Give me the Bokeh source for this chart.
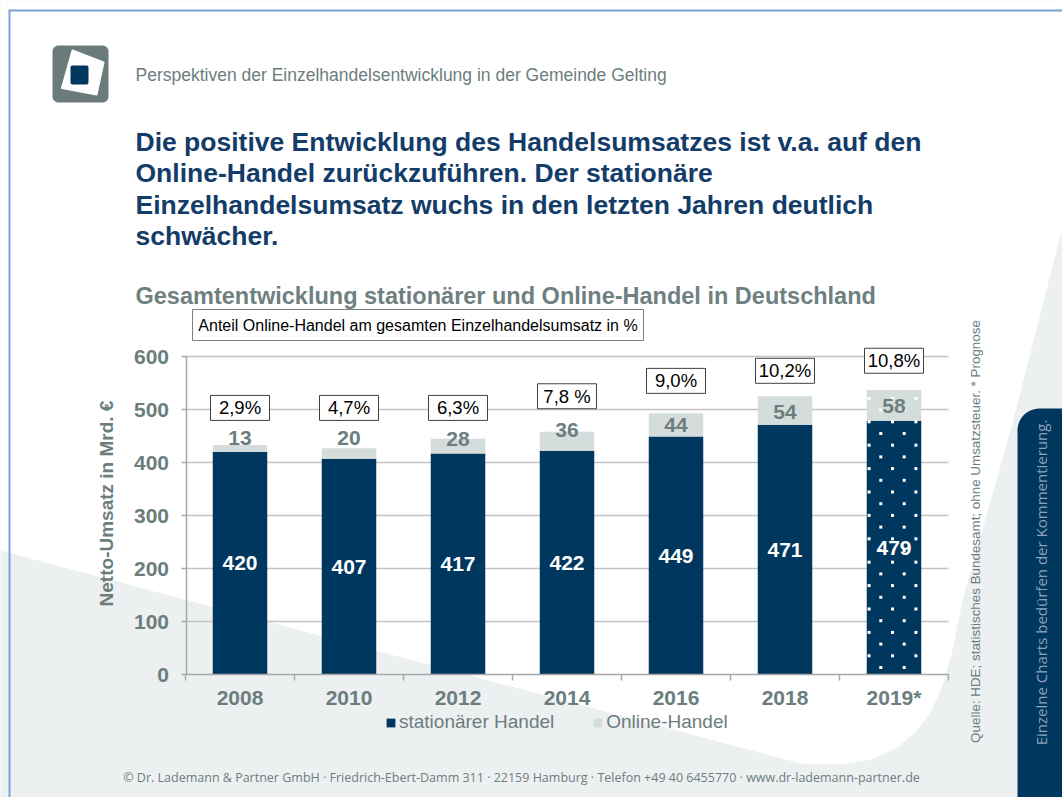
import numpy as np
from bokeh.plotting import figure
from bokeh.models import (Range1d, LinearAxis, FixedTicker, Label, Legend,
                          LegendItem, ColumnDataSource)
from bokeh.core.properties import value
from bokeh.embed import file_html
from bokeh.resources import INLINE

# ---------------- data ----------------
years = ["2008", "2010", "2012", "2014", "2016", "2018", "2019*"]
stationaer = [420, 407, 417, 422, 449, 471, 479]
online = [13, 20, 28, 36, 44, 54, 58]
anteil = ["2,9%", "4,7%", "6,3%", "7,8 %", "9,0%", "10,2%", "10,8%"]
y_ticks = [0, 100, 200, 300, 400, 500, 600]

# label placement (value units)
anteil_pos = [503, 503, 503, 525, 554, 573, 592]
online_lbl_pos = [447, 447, 445, 462, 470, 496, 507]

# ---------------- layout constants ----------------
W, H, OFF = 1062, 797, 0
X0, DX = 239.5, 109.0      # pixel centre of first category, category width
Y0, PPU = 674.0, 0.53       # pixel of value 0, pixels per unit

NAVY = "#00375f"
LIGHT = "#d4dcdc"
GRAY = "#6c7d7e"
TITLE = "#133c69"
BG = "#edf0f1"
FONT = "Liberation Sans"

p = figure(width=W, height=H, x_range=Range1d(OFF, OFF + W), y_range=Range1d(OFF + H, OFF),
           x_axis_type=None, y_axis_type=None, output_backend="svg", toolbar_location=None,
           min_border=0, outline_line_color=None, background_fill_color=BG,
           border_fill_color="white")
p.extra_x_ranges = {"cat": Range1d((OFF - X0) / DX, (OFF + W - X0) / DX)}
p.extra_y_ranges = {"val": Range1d((Y0 - (OFF + H)) / PPU, (Y0 - OFF) / PPU)}


def rrect(x0, y0, x1, y1, r):
    xs, ys = [], []
    for (cx, cy, a0, a1) in [(x0 + r, y0 + r, np.pi, 1.5 * np.pi),
                             (x1 - r, y0 + r, 1.5 * np.pi, 2 * np.pi),
                             (x1 - r, y1 - r, 0, 0.5 * np.pi),
                             (x0 + r, y1 - r, 0.5 * np.pi, np.pi)]:
        t = np.linspace(a0, a1, 12)
        xs += list(cx + r * np.cos(t))
        ys += list(cy + r * np.sin(t))
    return xs, ys


# ---------------- background decoration ----------------
wx = [0, 1062, 1062, 1010, 962, 952, 942, 930, 915, 895, 870, 840, 800, 0]
wy = [0, 0, 227, 430, 600, 650, 685, 712, 732, 748, 759, 764, 763, 550]
p.patch(wx, wy, fill_color="white", line_color=None)

bx, by = rrect(1017, 408, 1090, 830, 22)
p.patch(bx, by, fill_color=NAVY, line_color=None)

p.segment(x0=[8, 9], y0=[10, 10], x1=[1062, 9], y1=[10, 797], line_color="#7aa2d8", line_width=2)

# logo
lx, ly = rrect(52, 45, 108, 102, 6)
p.patch(lx, ly, fill_color="#6b7b7b", line_color=None)
p.patch([72, 103, 96, 61.5], [50, 62, 94, 87.5], fill_color="white", line_color="white",
        line_width=2, line_join="round")
dx_, dy_ = rrect(70, 65, 88, 84, 2)
p.patch(dx_, dy_, fill_color=NAVY, line_color=None)

# header texts
p.text(x=[135], y=[74], text=["Perspektiven der Einzelhandelsentwicklung in der Gemeinde Gelting"],
       text_font=value(FONT), text_font_size="17.5px", text_color=GRAY, text_baseline="middle")
title_lines = ["Die positive Entwicklung des Handelsumsatzes ist v.a. auf den",
               "Online-Handel zurückzuführen. Der stationäre",
               "Einzelhandelsumsatz wuchs in den letzten Jahren deutlich",
               "schwächer."]
p.text(x=[135] * 4, y=[141, 172.5, 204, 235.5], text=title_lines, text_font=value(FONT),
       text_font_style="bold", text_font_size="26.5px", text_color=TITLE, text_baseline="middle")

p.text(x=[135], y=[295], text=["Gesamtentwicklung stationärer und Online-Handel in Deutschland"],
       text_font=value(FONT), text_font_style="bold", text_font_size="23.5px",
       text_color="#6e8080", text_baseline="middle")
p.rect(x=[417.5], y=[324.5], width=[451], height=[31], fill_color="white",
       line_color="#808080", line_width=1)
p.text(x=[417.5], y=[324.5], text=["Anteil Online-Handel am gesamten Einzelhandelsumsatz in %"],
       text_font=value(FONT), text_font_size="16px", text_color="black",
       text_align="center", text_baseline="middle")

# ---------------- chart ----------------
n = len(years)
src = ColumnDataSource(dict(
    x=list(range(n)),
    st=stationaer,
    tot=[s + o for s, o in zip(stationaer, online)],
    st_mid=[s / 2 for s in stationaer],
    st_lbl=[str(s) for s in stationaer],
    on_lbl=[str(o) for o in online],
    on_pos=online_lbl_pos,
    pct=anteil,
    pct_pos=anteil_pos,
))
kw = dict(x_range_name="cat", y_range_name="val", source=src)

p.segment(x0=[-0.5] * (len(y_ticks) - 1), x1=[n - 0.5] * (len(y_ticks) - 1),
          y0=y_ticks[1:], y1=y_ticks[1:], line_color="#c4c4c4", line_width=1.5,
          x_range_name="cat", y_range_name="val")

r1 = p.vbar(x="x", width=0.5, bottom=0, top="st", fill_color=NAVY, line_color=None, **kw)
r2 = p.vbar(x="x", width=0.5, bottom="st", top="tot", fill_color=LIGHT, line_color=None, **kw)

# dotted fill texture for forecast bars (staggered white squares inside the bar)
ROW_PX, COL_PX = 11.7, 23.4
dots_x, dots_y = [], []
for i, (yr, s, o) in enumerate(zip(years, stationaer, online)):
    if not yr.endswith("*"):
        continue
    top = s + o
    v, k = 7 / PPU, 0
    while v < top - 3 / PPU:
        offs = [-0.5, 0.5] if k % 2 == 0 else [-1.0, 0.0, 1.0]
        for f in offs:
            dots_x.append(i + (f * COL_PX - 1.5) / DX)
            dots_y.append(v)
        v += ROW_PX / PPU
        k += 1
p.scatter(x=dots_x, y=dots_y, marker="square", size=3, fill_color="white", line_color=None,
          x_range_name="cat", y_range_name="val")

p.text(x="x", y="st_mid", text="st_lbl", text_align="center", text_baseline="middle",
       text_color="white", text_font=value(FONT), text_font_style="bold",
       text_font_size="21px", **kw)
p.text(x="x", y="on_pos", text="on_lbl", text_align="center", text_baseline="middle",
       text_color=GRAY, text_font=value(FONT), text_font_style="bold",
       text_font_size="21px", **kw)

p.rect(x="x", y="pct_pos", width=59, height=25, width_units="screen", height_units="screen",
       fill_color="white", line_color="#404040", line_width=1, **kw)
p.text(x="x", y="pct_pos", text="pct", text_align="center", text_baseline="middle",
       text_color="black", text_font=value(FONT), text_font_size="18.5px", **kw)

# axes
yaxis = LinearAxis(y_range_name="val", fixed_location=185.5,
                   ticker=FixedTicker(ticks=y_ticks, minor_ticks=[]), bounds=(0, 600),
                   axis_line_color="#a8a8a8", axis_line_width=1.5,
                   major_tick_line_color="#a8a8a8", major_tick_line_width=1.5,
                   major_tick_out=5, major_tick_in=0, minor_tick_line_color=None,
                   major_label_text_font=FONT, major_label_text_font_style="bold",
                   major_label_text_font_size="21px", major_label_text_color=GRAY,
                   major_label_standoff=12)
p.add_layout(yaxis, "left")

xaxis = LinearAxis(x_range_name="cat", y_range_name="val", fixed_location=0,
                   ticker=FixedTicker(ticks=list(range(n)),
                                      minor_ticks=[i - 0.5 for i in range(n + 1)]),
                   bounds=(-0.5, n - 0.5),
                   major_label_overrides={i: y for i, y in enumerate(years)},
                   axis_line_color="#a8a8a8", axis_line_width=1.5,
                   major_tick_line_color=None,
                   minor_tick_line_color="#a8a8a8", minor_tick_line_width=1.5,
                   minor_tick_out=6, minor_tick_in=0,
                   major_label_text_font=FONT, major_label_text_font_style="bold",
                   major_label_text_font_size="21px", major_label_text_color=GRAY,
                   major_label_standoff=5)
p.add_layout(xaxis, "below")

p.add_layout(Label(x=106, y=503, text="Netto-Umsatz in Mrd. €", angle=np.pi / 2,
                   text_align="center", text_baseline="middle", text_font=FONT,
                   text_font_style="bold", text_font_size="19px", text_color=GRAY))

legend = Legend(items=[LegendItem(label="stationärer Handel", renderers=[r1]),
                       LegendItem(label="Online-Handel", renderers=[r2])],
                orientation="horizontal", location=(385, 797 - 733), glyph_width=11,
                glyph_height=11, label_standoff=3, spacing=38, padding=0, margin=0,
                border_line_color=None, background_fill_alpha=0, label_text_font=FONT,
                label_text_font_size="19px", label_text_color=GRAY, label_height=20)
p.add_layout(legend)

# side / footer texts
p.add_layout(Label(x=975, y=531, text="Quelle: HDE; statistisches Bundesamt; ohne Umsatzsteuer. * Prognose",
                   angle=np.pi / 2, text_align="center", text_baseline="middle", text_font=FONT,
                   text_font_size="13.4px", text_color=GRAY))
p.add_layout(Label(x=1040, y=582, text="Einzelne Charts bedürfen der Kommentierung.",
                   angle=np.pi / 2, text_align="center", text_baseline="middle",
                   text_font="Open Sans", text_font_size="15px", text_color="#8ba1bb"))
p.add_layout(Label(x=521, y=777,
                   text="© Dr. Lademann & Partner GmbH · Friedrich-Ebert-Damm 311 · 22159 Hamburg · Telefon +49 40 6455770 · www.dr-lademann-partner.de",
                   text_align="center", text_baseline="middle", text_font="Open Sans",
                   text_font_size="12.5px", text_color=GRAY))

open("out.html", "w").write(file_html(p, INLINE))
